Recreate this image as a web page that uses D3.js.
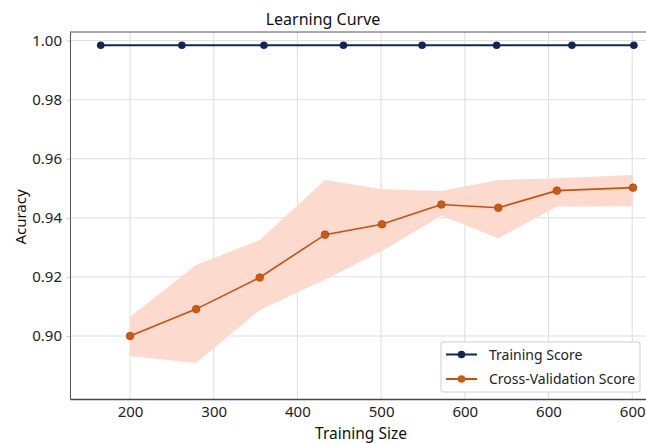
<!DOCTYPE html>
<html>
<head>
<meta charset="utf-8">
<script src="https://cdn.jsdelivr.net/npm/d3@7"></script>
<style>
  html, body { margin: 0; padding: 0; background: #fff; }
  svg { display: block; font-family: "Noto Sans", "Open Sans", sans-serif; }
</style>
</head>
<body>
<svg id="chart" width="646" height="443"></svg>
<script>
// ---- data ----
const trainSizes = [165, 262, 360, 455, 549, 638, 728, 802];
const trainScores = [0.9984, 0.9984, 0.9984, 0.9984, 0.9984, 0.9984, 0.9984, 0.9984];

const cvSizes = [200, 279, 355, 433, 501, 572, 640, 710, 801];
const cvScores = [0.9000, 0.9091, 0.9198, 0.9343, 0.9378, 0.9445, 0.9434, 0.9492, 0.9502];
const cvUpper = [0.9065, 0.9240, 0.9325, 0.9528, 0.9497, 0.9491, 0.9528, 0.9534, 0.9545];
const cvLower = [0.8932, 0.8909, 0.9088, 0.9191, 0.9288, 0.9408, 0.9331, 0.9438, 0.9439];

const xTickValues = [200, 300, 400, 500, 600, 700, 800];
const xTickLabels = ["200", "300", "400", "500", "600", "600", "600"];
const yTickValues = [0.90, 0.92, 0.94, 0.96, 0.98, 1.00];

const titleText = "Learning Curve";
const xLabel = "Training Size";
const yLabel = "Acuracy";
const seriesNames = ["Training Score", "Cross-Validation Score"];

(function () {
// ---- layout ----
const svg = d3.select("#chart");
const pL = 70, pR = 646, pT = 32, pB = 399;
const trainColor = "#0f2657";
const cvColor = "#c4520e";
const bandColor = "#fcdacd";

const x = d3.scaleLinear().domain([128.3, 816.5]).range([pL, pR]);
const y = d3.scaleLinear().domain([0.87868, 1.00288]).range([pB, pT]);

// gridlines
svg.append("g").selectAll("line").data(xTickValues).join("line")
  .attr("x1", d => x(d)).attr("x2", d => x(d))
  .attr("y1", pT).attr("y2", pB)
  .attr("stroke", "#dedede").attr("stroke-width", 1);
svg.append("g").selectAll("line").data(yTickValues).join("line")
  .attr("x1", pL).attr("x2", pR)
  .attr("y1", d => y(d)).attr("y2", d => y(d))
  .attr("stroke", "#dedede").attr("stroke-width", 1);

// band
const cvData = cvSizes.map((s, i) => ({s, v: cvScores[i], hi: cvUpper[i], lo: cvLower[i]}));
svg.append("path").datum(cvData)
  .attr("d", d3.area().x(d => x(d.s)).y0(d => y(d.lo)).y1(d => y(d.hi)))
  .attr("fill", bandColor).attr("stroke", "none");

// frame top
svg.append("line").attr("x1", pL).attr("x2", pR).attr("y1", pT).attr("y2", pT)
  .attr("stroke", "#555").attr("stroke-width", 1);

// axes
const xAxis = d3.axisBottom(x).tickValues(xTickValues)
  .tickFormat((d, i) => xTickLabels[i]).tickSize(0).tickPadding(7);
const gx = svg.append("g").attr("transform", `translate(0,${pB})`).call(xAxis);
gx.select(".domain").attr("stroke", "#444").attr("stroke-width", 1.3);
gx.selectAll("text").attr("font-size", 15).attr("fill", "#222")
  .attr("font-family", "Noto Sans, sans-serif");

const yAxis = d3.axisLeft(y).tickValues(yTickValues)
  .tickFormat(d3.format(".2f")).tickSizeInner(3).tickSizeOuter(0).tickPadding(5);
const gy = svg.append("g").attr("transform", `translate(${pL},0)`).call(yAxis);
gy.select(".domain").attr("stroke", "#555").attr("stroke-width", 1);
gy.selectAll(".tick line").attr("stroke", "#ccc");
gy.selectAll("text").attr("font-size", 15).attr("fill", "#222")
  .attr("font-family", "Noto Sans, sans-serif");

// training series
const trainData = trainSizes.map((s, i) => ({s, v: trainScores[i]}));
svg.append("path").datum(trainData)
  .attr("d", d3.line().x(d => x(d.s)).y(d => y(d.v)))
  .attr("fill", "none").attr("stroke", trainColor).attr("stroke-width", 2);
svg.append("g").selectAll("circle").data(trainData).join("circle")
  .attr("cx", d => x(d.s)).attr("cy", d => y(d.v)).attr("r", 3.8)
  .attr("fill", trainColor);

// cv series
svg.append("path").datum(cvData)
  .attr("d", d3.line().x(d => x(d.s)).y(d => y(d.v)))
  .attr("fill", "none").attr("stroke", cvColor).attr("stroke-width", 1.6);
svg.append("g").selectAll("circle").data(cvData).join("circle")
  .attr("cx", d => x(d.s)).attr("cy", d => y(d.v)).attr("r", 3.8)
  .attr("fill", "#d0580f").attr("stroke", "#b04a0c").attr("stroke-width", 0.8);

// title & labels
svg.append("text").attr("x", 323).attr("y", 25).attr("text-anchor", "middle")
  .attr("font-size", 16).attr("fill", "#111").text(titleText);
svg.append("text").attr("x", 361).attr("y", 439).attr("text-anchor", "middle")
  .attr("font-size", 15.5).attr("fill", "#111").text(xLabel);
svg.append("text").attr("transform", "translate(26,217) rotate(-90)")
  .attr("text-anchor", "middle").attr("font-size", 15).attr("fill", "#111").text(yLabel);

// legend
const lg = svg.append("g");
lg.append("rect").attr("x", 441).attr("y", 342).attr("width", 199).attr("height", 50)
  .attr("rx", 2).attr("fill", "#fff").attr("stroke", "#cfcfcf");
const legendColors = [trainColor, cvColor];
seriesNames.forEach((name, i) => {
  const yy = 354.5 + i * 24.5;
  lg.append("line").attr("x1", 446).attr("x2", 477).attr("y1", yy).attr("y2", yy)
    .attr("stroke", legendColors[i]).attr("stroke-width", 2);
  lg.append("circle").attr("cx", 461.5).attr("cy", yy).attr("r", 3.8)
    .attr("fill", i === 0 ? trainColor : "#d0580f");
  lg.append("text").attr("x", 489).attr("y", yy + 5).attr("font-size", 14)
    .attr("fill", "#222").text(name);
});
})();
</script>
</body>
</html>
